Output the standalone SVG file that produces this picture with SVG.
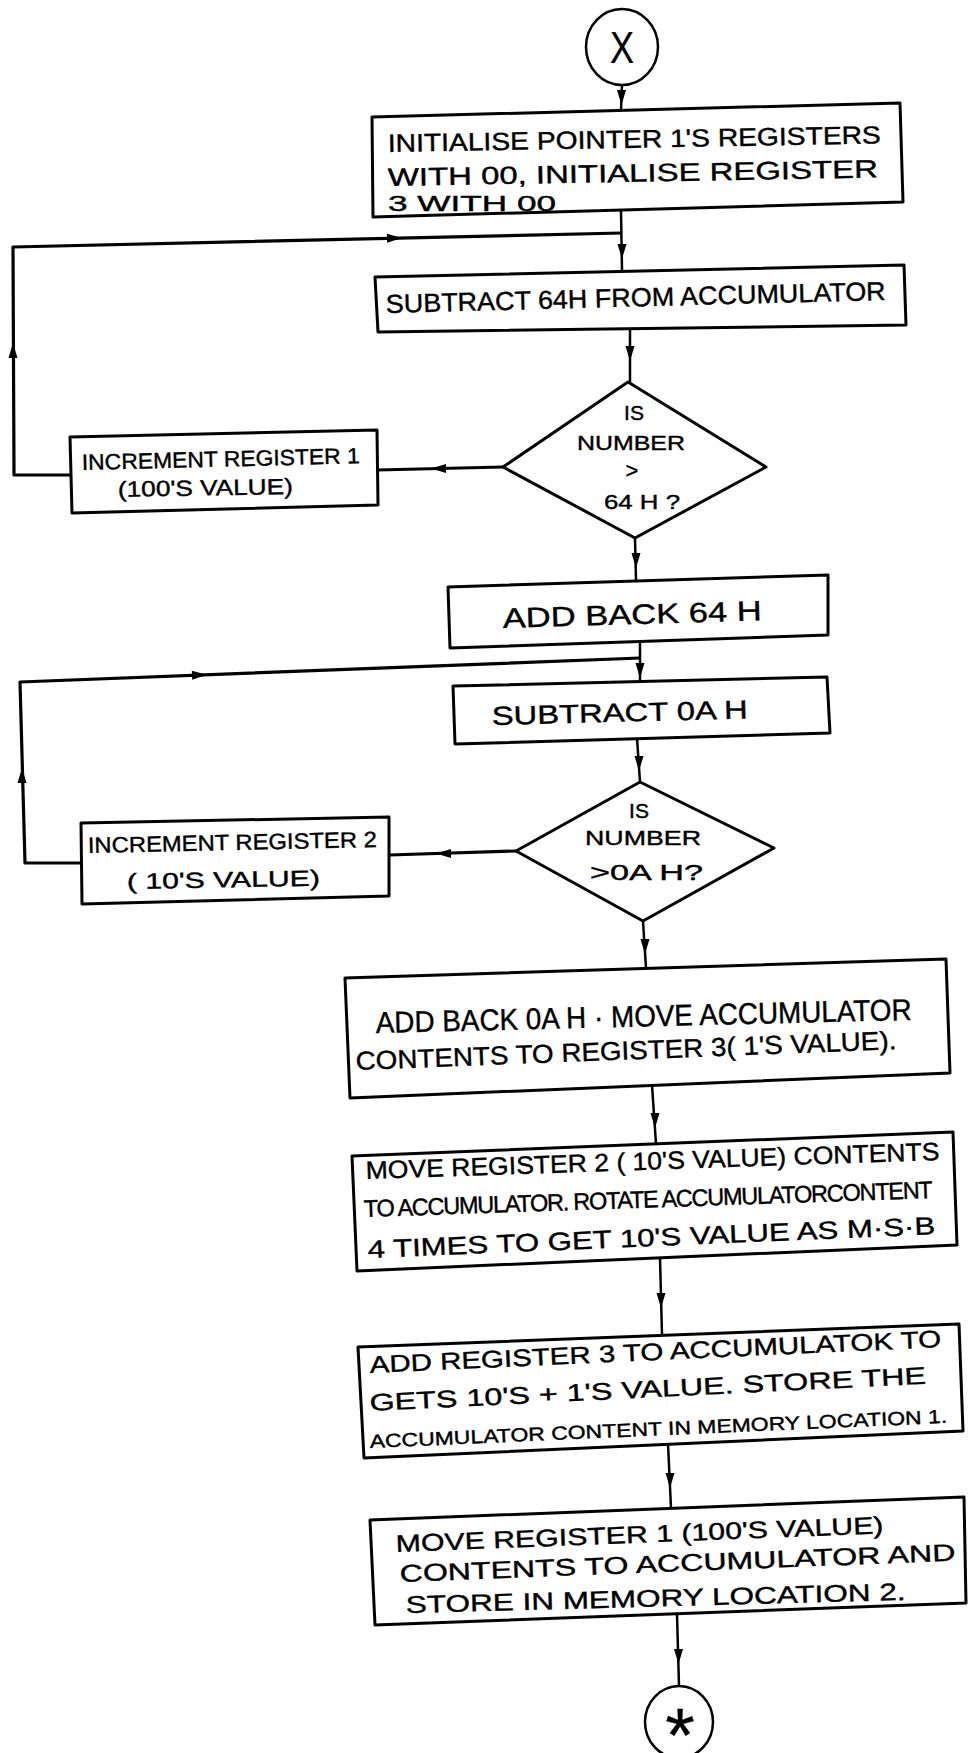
<svg xmlns="http://www.w3.org/2000/svg" xmlns:xlink="http://www.w3.org/1999/xlink" width="969" height="1753" viewBox="0 0 969 1753">
<defs>
<style>
.box{fill:#fff;stroke:#000;stroke-width:3;stroke-linejoin:round}
.ln{fill:none;stroke:#000;stroke-width:2.5;stroke-linejoin:round}
.lp{fill:none;stroke:#000;stroke-width:3.2;stroke-linejoin:round}
.t{font-family:"Liberation Sans",Arial,sans-serif;fill:#000;stroke:#000;stroke-width:0.4}
.m{text-anchor:middle}
</style>
<path id="ah" d="M0,0 L-4.5,-15 L4.5,-15 Z" fill="#000"/>
</defs>
<rect width="969" height="1753" fill="#fff"/>

<g id="connectors">
<path class="ln" d="M622,85 L621,110"/>
<use xlink:href="#ah" href="#ah" transform="translate(621.5,105)"/>
<path class="ln" d="M621,210 L622,271"/>
<use xlink:href="#ah" href="#ah" transform="translate(622,259)"/>
<path class="lp" d="M70,475 L14,475 L13,247 L622,233"/>
<use xlink:href="#ah" href="#ah" transform="translate(13,343) rotate(180)"/>
<use xlink:href="#ah" href="#ah" transform="translate(402,238) rotate(-91)"/>
<path class="ln" d="M630,329 L630,382"/>
<use xlink:href="#ah" href="#ah" transform="translate(630,361)"/>
<path class="lp" d="M503,467 L377,470"/>
<use xlink:href="#ah" href="#ah" transform="translate(431,468.5) rotate(90)"/>
<path class="ln" d="M635,538 L636,581"/>
<use xlink:href="#ah" href="#ah" transform="translate(636,568)"/>
<path class="ln" d="M640,642 L640,682"/>
<use xlink:href="#ah" href="#ah" transform="translate(640,678)"/>
<path class="lp" d="M82,863 L25,863 L20,682 L640,658"/>
<use xlink:href="#ah" href="#ah" transform="translate(22,768) rotate(180)"/>
<use xlink:href="#ah" href="#ah" transform="translate(207,674.8) rotate(-92)"/>
<path class="ln" d="M637,738 L640,782"/>
<use xlink:href="#ah" href="#ah" transform="translate(639,771)"/>
<path class="lp" d="M516,851 L389,855"/>
<use xlink:href="#ah" href="#ah" transform="translate(436,853.5) rotate(90)"/>
<path class="ln" d="M643,921 L646,968"/>
<use xlink:href="#ah" href="#ah" transform="translate(645,954)"/>
<path class="ln" d="M652,1085 L656,1144"/>
<use xlink:href="#ah" href="#ah" transform="translate(655,1128)"/>
<path class="ln" d="M660,1258 L662,1335"/>
<use xlink:href="#ah" href="#ah" transform="translate(661,1308)"/>
<path class="ln" d="M668,1444 L671,1508"/>
<use xlink:href="#ah" href="#ah" transform="translate(670,1488)"/>
<path class="ln" d="M677,1614 L679,1686"/>
<use xlink:href="#ah" href="#ah" transform="translate(678.5,1664)"/>
</g>

<g id="start">
<ellipse cx="622" cy="47" rx="36" ry="38" fill="#fff" stroke="#000" stroke-width="2.5"/>
<text class="t m" x="622" y="63" style="font-size:44px;stroke-width:0.2" textLength="24" lengthAdjust="spacingAndGlyphs">X</text>
</g>

<g id="init">
<polygon class="box" points="372,117 900,103 903,202 373,217"/>
<text class="t" x="388" y="152" style="font-size:25px" textLength="493" lengthAdjust="spacingAndGlyphs" transform="rotate(-1,388,152)">INITIALISE POINTER 1'S  REGISTERS</text>
<text class="t" x="388" y="186" style="font-size:25px" textLength="490" lengthAdjust="spacingAndGlyphs" transform="rotate(-1,388,186)">WITH 00, INITIALISE  REGISTER</text>
<text class="t" x="388" y="211" style="font-size:22px" textLength="168" lengthAdjust="spacingAndGlyphs">3  WITH 00</text>
</g>

<g id="sub64">
<polygon class="box" points="375,277 904,265 906,325 378,332"/>
<text class="t" x="386" y="313" style="font-size:26px" textLength="500" lengthAdjust="spacingAndGlyphs" transform="rotate(-1.5,386,313)">SUBTRACT 64H FROM ACCUMULATOR</text>
</g>

<g id="dec1">
<polygon class="box" points="628,382 766,467 635,538 503,467"/>
<text class="t m" x="634" y="420" style="font-size:21px">IS</text>
<text class="t m" x="631" y="450" style="font-size:21px" textLength="108" lengthAdjust="spacingAndGlyphs">NUMBER</text>
<text class="t m" x="632" y="478" style="font-size:22px">&gt;</text>
<text class="t m" x="642" y="509" style="font-size:21px" textLength="76" lengthAdjust="spacingAndGlyphs">64 H ?</text>
</g>

<g id="inc1">
<polygon class="box" points="70,437 377,430 378,505 72,513"/>
<text class="t" x="82" y="470" style="font-size:22px" textLength="278" lengthAdjust="spacingAndGlyphs" transform="rotate(-1.4,82,470)">INCREMENT REGISTER 1</text>
<text class="t" x="118" y="497" style="font-size:22px" textLength="175" lengthAdjust="spacingAndGlyphs" transform="rotate(-1,118,497)">(100'S VALUE)</text>
</g>

<g id="add64">
<polygon class="box" points="448,587 828,575 828,635 450,648"/>
<text class="t" x="503" y="628" style="font-size:28px" textLength="259" lengthAdjust="spacingAndGlyphs" transform="rotate(-1.7,503,628)">ADD  BACK  64 H</text>
</g>

<g id="sub0a">
<polygon class="box" points="453,686 827,677 830,733 455,744"/>
<text class="t" x="492" y="725" style="font-size:26px" textLength="256" lengthAdjust="spacingAndGlyphs" transform="rotate(-1.5,492,725)">SUBTRACT   0A H</text>
</g>

<g id="dec2">
<polygon class="box" points="640,782 774,848 643,921 516,851"/>
<text class="t m" x="639" y="818" style="font-size:21px">IS</text>
<text class="t m" x="643" y="845" style="font-size:21px" textLength="116" lengthAdjust="spacingAndGlyphs">NUMBER</text>
<text class="t" x="590" y="880" style="font-size:22px" textLength="113" lengthAdjust="spacingAndGlyphs">&gt;0A H?</text>
</g>

<g id="inc2">
<polygon class="box" points="81,823 389,817 389,896 82,904"/>
<text class="t" x="88" y="853" style="font-size:22px" textLength="289" lengthAdjust="spacingAndGlyphs" transform="rotate(-1.2,88,853)">INCREMENT  REGISTER 2</text>
<text class="t" x="127" y="889" style="font-size:22px" textLength="193" lengthAdjust="spacingAndGlyphs" transform="rotate(-1,127,889)">( 10'S  VALUE)</text>
</g>

<g id="addback0a">
<polygon class="box" points="345,978 946,959 950,1073 350,1098"/>
<text class="t" x="376" y="1033" style="font-size:30px" textLength="536" lengthAdjust="spacingAndGlyphs" transform="rotate(-1.4,376,1033)">ADD BACK 0A H · MOVE  ACCUMULATOR</text>
<text class="t" x="356" y="1070" style="font-size:26px" textLength="541" lengthAdjust="spacingAndGlyphs" transform="rotate(-2.2,356,1070)">CONTENTS  TO  REGISTER 3( 1'S VALUE).</text>
</g>

<g id="movereg2">
<polygon class="box" points="352,1156 953,1132 957,1245 357,1271"/>
<text class="t" x="366" y="1179" style="font-size:25px" textLength="574" lengthAdjust="spacingAndGlyphs" transform="rotate(-1.9,366,1179)">MOVE  REGISTER 2 ( 10'S VALUE) CONTENTS</text>
<text class="t" x="364" y="1217" style="font-size:24px;letter-spacing:-1.3px" textLength="568" lengthAdjust="spacingAndGlyphs" transform="rotate(-1.9,364,1217)">TO ACCUMULATOR. ROTATE ACCUMULATORCONTENT</text>
<text class="t" x="368" y="1258" style="font-size:25px" textLength="568" lengthAdjust="spacingAndGlyphs" transform="rotate(-2.4,368,1258)">4 TIMES  TO  GET  10'S VALUE  AS  M·S·B</text>
</g>

<g id="addreg3">
<polygon class="box" points="358,1347 959,1324 963,1431 364,1458"/>
<text class="t" x="370" y="1373" style="font-size:24px" textLength="572" lengthAdjust="spacingAndGlyphs" transform="rotate(-2.6,370,1373)">ADD  REGISTER  3  TO  ACCUMULATOK  TO</text>
<text class="t" x="370" y="1411" style="font-size:24px" textLength="557" lengthAdjust="spacingAndGlyphs" transform="rotate(-2.8,370,1411)">GETS  10'S + 1'S  VALUE.  STORE  THE</text>
<text class="t" x="370" y="1448" style="font-size:19px" textLength="578" lengthAdjust="spacingAndGlyphs" transform="rotate(-2.5,370,1448)">ACCUMULATOR CONTENT IN MEMORY LOCATION 1.</text>
</g>

<g id="movereg1">
<polygon class="box" points="370,1520 964,1497 966,1603 375,1625"/>
<text class="t" x="396" y="1552" style="font-size:24px" textLength="488" lengthAdjust="spacingAndGlyphs" transform="rotate(-2.2,396,1552)">MOVE  REGISTER  1  (100'S  VALUE)</text>
<text class="t" x="400" y="1582" style="font-size:24px" textLength="556" lengthAdjust="spacingAndGlyphs" transform="rotate(-2.2,400,1582)">CONTENTS  TO  ACCUMULATOR  AND</text>
<text class="t" x="406" y="1613" style="font-size:24px" textLength="500" lengthAdjust="spacingAndGlyphs" transform="rotate(-1.5,406,1613)">STORE  IN  MEMORY  LOCATION  2.</text>
</g>

<g id="end">
<ellipse cx="679" cy="1722" rx="34" ry="36" fill="#fff" stroke="#000" stroke-width="2.5"/>
<text class="t m" x="680" y="1761" style="font-size:76px;stroke-width:0.3">*</text>
</g>
</svg>
